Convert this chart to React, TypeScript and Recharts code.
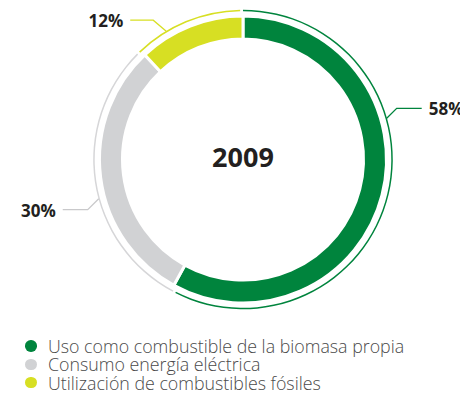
import React from 'react';
import { PieChart, Pie, Cell, Legend, Label } from 'recharts';

const categories = [
  'Uso como combustible de la biomasa propia',
  'Consumo energía eléctrica',
  'Utilización de combustibles fósiles',
];
const values = [58, 30, 12];
const valueLabels = ['58%', '30%', '12%'];
const centerTitle = '2009';

const COLORS = ['#00843d', '#d1d2d4', '#d7df23'];
const THIN_COLORS = ['#00843d', '#d6d6d8', '#d7df23'];
const LINE_COLORS = ['#00843d', '#c9c9cb', '#d7df23'];
const TEXT = '#231f20';
const FONT = '"Open Sans", "Noto Sans", sans-serif';

const data = categories.map((name, i) => ({ name, value: values[i], label: valueLabels[i] }));

const CX = 243;
const CY = 159.5;

// leader-line layout per slice (style, not data)
const LEADERS = [
  { angle: 16, dx: 10, dy: -10, len: 25, side: 1 },
  { angle: 195.2, dx: -11, dy: 11, len: 25, side: -1 },
  { angle: 120.9, dx: -13, dy: -11, len: 23, side: -1 },
];

const RAD = Math.PI / 180;

const renderLabel = (props: any) => {
  const index = props.index;
  const cx = typeof props.cx === 'number' ? props.cx : CX;
  const cy = typeof props.cy === 'number' ? props.cy : CY;
  const L = LEADERS[index];
  const r = 149.5;
  const x0 = cx + r * Math.cos(L.angle * RAD);
  const y0 = cy - r * Math.sin(L.angle * RAD);
  const x1 = x0 + L.dx;
  const y1 = y0 + L.dy;
  const x2 = x1 + L.side * L.len;
  const tx = x2 + L.side * 7;
  return (
    <g key={`lbl-${index}`}>
      <polyline
        points={`${x0},${y0} ${x1},${y1} ${x2},${y1}`}
        fill="none"
        stroke={LINE_COLORS[index]}
        strokeWidth={1.3}
      />
      <text
        x={tx}
        y={y1 + 0.5}
        textAnchor={L.side > 0 ? 'start' : 'end'}
        dominantBaseline="central"
        fill={TEXT}
        fontFamily={FONT}
        fontWeight={700}
        fontSize={17}
      >
        {data[index].label}
      </text>
    </g>
  );
};

const renderLegend = () => (
  <div style={{ fontFamily: FONT }}>
    {data.map((d, i) => (
      <div key={d.name} style={{ display: 'flex', alignItems: 'center', height: 18.3 }}>
        <span
          style={{
            display: 'inline-block',
            width: 11.5,
            height: 11.5,
            borderRadius: '50%',
            background: COLORS[i],
            marginLeft: 25,
            marginRight: 11.5,
          }}
        />
        <span style={{ fontSize: 17.8, fontWeight: 300, color: '#4a4a4a', lineHeight: '18px', whiteSpace: 'nowrap' }}>
          {d.name}
        </span>
      </div>
    ))}
  </div>
);

export default function App() {
  return (
    <div style={{ position: 'absolute', left: 0, top: 0, width: 460, height: 400, background: '#fff', overflow: 'hidden' }}>
      <PieChart width={460} height={400} margin={{ top: 0, right: 0, bottom: 0, left: 0 }}>
        <Pie
          data={data}
          dataKey="value"
          cx={CX}
          cy={CY}
          innerRadius={148.3}
          outerRadius={149.8}
          startAngle={90}
          endAngle={-270}
          paddingAngle={1.1}
          stroke="none"
          isAnimationActive={false}
          label={renderLabel}
          labelLine={false}
        >
          {data.map((d, i) => (
            <Cell key={d.name} fill={THIN_COLORS[i]} />
          ))}
        </Pie>
        <Pie
          data={data}
          dataKey="value"
          cx={CX}
          cy={CY}
          innerRadius={120.5}
          outerRadius={143.5}
          startAngle={90}
          endAngle={-270}
          stroke="#ffffff"
          strokeWidth={3}
          isAnimationActive={false}
        >
          {data.map((d, i) => (
            <Cell key={d.name} fill={COLORS[i]} />
          ))}
          <Label
            position="center"
            content={(p: any) => {
              const vb = p.viewBox || {};
              const x = typeof vb.cx === 'number' ? vb.cx : CX;
              const y = typeof vb.cy === 'number' ? vb.cy : CY;
              return (
                <text
                  x={x}
                  y={y - 3}
                  textAnchor="middle"
                  dominantBaseline="central"
                  fill={TEXT}
                  fontFamily={FONT}
                  fontWeight={700}
                  fontSize={27}
                >
                  {centerTitle}
                </text>
              );
            }}
          />
        </Pie>
        <Legend
          content={renderLegend}
          wrapperStyle={{ position: 'absolute', left: 0, top: 337, width: 460 }}
        />
      </PieChart>
    </div>
  );
}
